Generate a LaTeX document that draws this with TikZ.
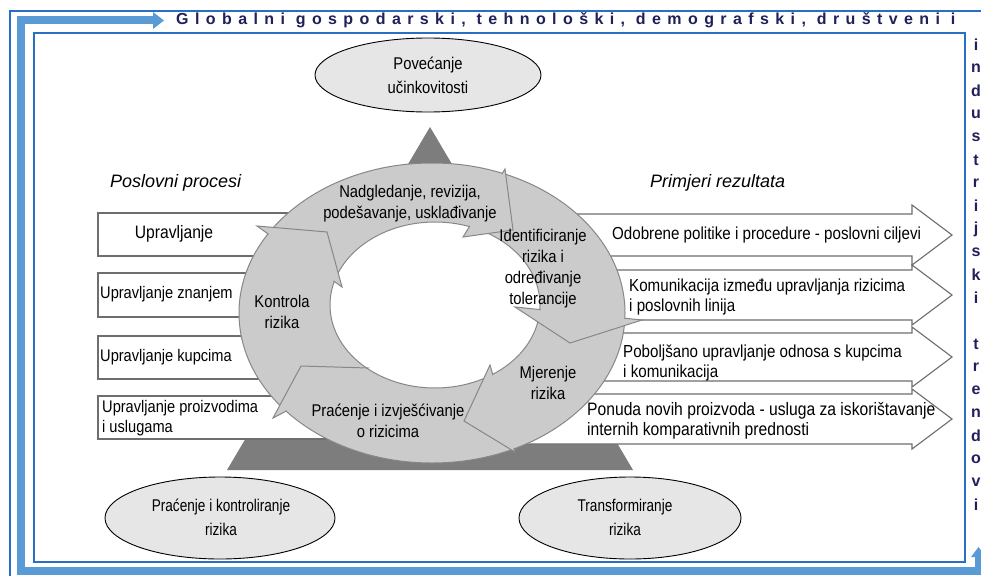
\documentclass[tikz,border=0pt]{standalone}
\usepackage{fontspec}
\setmainfont{Liberation Sans}
\newfontfamily\narrowfont{Liberation Sans}[FakeStretch=0.87]
\newfontfamily\condfont{Liberation Sans}[FakeStretch=0.80]
\newfontfamily\spacedfont{Liberation Sans}[LetterSpace=40]
\usetikzlibrary{shapes.geometric}
\definecolor{thinblue}{RGB}{40,112,196}
\definecolor{thickblue}{RGB}{91,155,213}
\definecolor{navy}{RGB}{32,32,90}
\definecolor{ringfill}{RGB}{203,203,203}
\definecolor{ringline}{RGB}{135,135,135}
\definecolor{tri}{RGB}{125,125,125}
\definecolor{ellfill}{RGB}{230,230,230}
\definecolor{boxline}{RGB}{110,110,110}
\tikzset{
 boxtxt/.style={font=\narrowfont\fontsize{16.8}{19.5}\selectfont, inner sep=0pt, align=left, anchor=west},
 restxt/.style={font=\narrowfont\fontsize{17.4}{19.5}\selectfont, inner sep=0pt, align=left, anchor=west},
 ringtxt/.style={font=\narrowfont\fontsize{17}{21}\selectfont, inner sep=0pt, align=center},
 hdr/.style={font=\itshape\fontsize{18}{20}\selectfont, inner sep=0pt, anchor=west},
 elltxt/.style={font=\condfont\fontsize{17}{24}\selectfont, inner sep=0pt, align=center},
 vletter/.style={font=\bfseries\fontsize{16}{16}\selectfont, text=navy, inner sep=0pt},
 procbox/.style={draw=boxline, fill=white, line width=1.1pt},
 ovalnode/.style={ellipse, draw=black, fill=ellfill, line width=0.9pt, inner sep=0pt},
 ringedge/.style={draw=ringline, line width=1pt, line join=miter},
}
\newcommand\ringhead[3]{%
  \fill[ringfill] #1 -- #2 -- #3 -- cycle;
  \draw[ringedge] #1 -- #2 -- #3 -- cycle;}
\newcommand\resarrow[3]{% top, bottom, head half height
  \draw[procbox, line join=miter] (460,#1) -- (912,#1) -- (912,#1-#3) -- (952,{(#1+#2)/2})
     -- (912,#2+#3) -- (912,#2) -- (460,#2) -- cycle;}
\begin{document}
\begin{tikzpicture}[x=1pt,y=-1pt]
\clip (0,0) rectangle (981,575);
\fill[white] (0,0) rectangle (981,575);
% blue frame
\draw[thinblue, line width=1.5pt] (10,590) -- (10,11) -- (995,11);
\draw[thickblue, line width=8pt, line join=miter] (155,20.5) -- (20.5,20.5) -- (20.5,570.5) -- (978.5,570.5) -- (978.5,556);
\fill[thickblue] (153,12) -- (164,20.5) -- (153,29) -- cycle;
\fill[thickblue] (971,557) -- (978.5,547) -- (986,557) -- cycle;
\draw[thinblue, line width=1.5pt] (34,33) rectangle (965,562);
% title along top
\node[anchor=west, font=\spacedfont\bfseries\fontsize{16}{16}\selectfont, text=navy, inner sep=0pt] (gtitle) at (176,20) {Globalni gospodarski, tehnološki, demografski, društveni i};
% vertical letters on right
\foreach \ch [count=\i] in {i,n,d,u,s,t,r,i,j,s,k,i}
  \node[vletter] (va\i) at (976,{45+23*(\i-1)}) {\ch};
\foreach \ch [count=\i] in {t,r,e,n,d,o,v,i}
  \node[vletter] (vb\i) at (976,{344+23*(\i-1)}) {\ch};
% triangle
\fill[tri] (430,127) -- (633,470) -- (227,470) -- cycle;
% left process boxes
\draw[procbox] (98,213) rectangle (420,256);
\draw[procbox] (98,273) rectangle (420,317);
\draw[procbox] (98,336) rectangle (420,379);
\draw[procbox] (98,396) rectangle (420,439);
% right result arrows
\resarrow{214}{256}{9}
\resarrow{270}{320}{5}
\resarrow{333}{381}{6}
\resarrow{394}{444}{5}
% ring
\fill[ringfill, even odd rule] (432,313) ellipse [x radius=193pt, y radius=150pt]
     (435,305) ellipse [x radius=105pt, y radius=83pt];
\fill[white] (435,305) ellipse [x radius=105pt, y radius=83pt];
\draw[ringedge] (432,313) ellipse [x radius=193pt, y radius=150pt];
\draw[ringedge] (435,305) ellipse [x radius=105pt, y radius=83pt];
\ringhead{(505,169)}{(513,230)}{(463,237)}
\ringhead{(515,307)}{(570,343)}{(642,320)}
\ringhead{(490,365)}{(464,421)}{(515,452)}
\ringhead{(273,418)}{(301,366)}{(368,368)}
\ringhead{(257,226)}{(327,232)}{(342,287)}
\begin{scope}
\clip (624,313) arc[start angle=0, end angle=360, x radius=192pt, y radius=149pt] -- cycle
      (541,305) arc[start angle=0, end angle=-360, x radius=106pt, y radius=84pt] -- cycle;
\draw[ringfill, line width=2.6pt] (505,169) -- (463,237);
\draw[ringfill, line width=2.6pt] (515,307) -- (642,320);
\draw[ringfill, line width=2.6pt] (490,365) -- (515,452);
\draw[ringfill, line width=2.6pt] (273,418) -- (368,368);
\draw[ringfill, line width=2.6pt] (257,226) -- (342,287);
\end{scope}
% ovals
\node[ovalnode, minimum width=226pt, minimum height=74pt] (oTop) at (428,75) {};
\node[ovalnode, minimum width=230pt, minimum height=82pt] (oLeft) at (220,518) {};
\node[ovalnode, minimum width=222pt, minimum height=82pt] (oRight) at (630,518) {};
\node[elltxt, font=\narrowfont\fontsize{17}{24}\selectfont] (tTop) at (428,75) {Povećanje\\učinkovitosti};
\node[elltxt] (tLeft) at (221,517) {Praćenje i kontroliranje\\rizika};
\node[elltxt] (tRight) at (625,517) {Transformiranje\\rizika};
% headers
\node[hdr] (hL) at (110,183) {Poslovni procesi};
\node[hdr] (hR) at (650,183) {Primjeri rezultata};
% box texts
\node[boxtxt, anchor=center, font=\narrowfont\fontsize{18}{20}\selectfont] (b1) at (174,234) {Upravljanje};
\node[boxtxt] (b2) at (100,294) {Upravljanje znanjem};
\node[boxtxt] (b3) at (100,357) {Upravljanje kupcima};
\node[boxtxt] (b4) at (102,418) {Upravljanje proizvodima\\i uslugama};
\node[restxt] (r1) at (612,235) {Odobrene politike i procedure - poslovni ciljevi};
\node[restxt] (r2) at (629,297) {Komunikacija između upravljanja rizicima\\i poslovnih linija};
\node[restxt] (r3) at (623,363) {Poboljšano upravljanje odnosa s kupcima\\i komunikacija};
\node[restxt, font=\narrowfont\fontsize{18}{19.5}\selectfont] (r4) at (587,421) {Ponuda novih proizvoda - usluga za iskorištavanje\\internih komparativnih prednosti};
% ring texts
\node[ringtxt] (c1) at (410,204) {Nadgledanje, revizija,\\podešavanje, usklađivanje};
\node[ringtxt] (c2) at (543,269) {Identificiranje\\rizika i\\određivanje\\tolerancije};
\node[ringtxt] (c3) at (548,383) {Mjerenje\\rizika};
\node[ringtxt] (c4) at (388,421) {Praćenje i izvješćivanje\\o rizicima};
\node[ringtxt] (c5) at (282,312) {Kontrola\\rizika};
\end{tikzpicture}
\end{document}
